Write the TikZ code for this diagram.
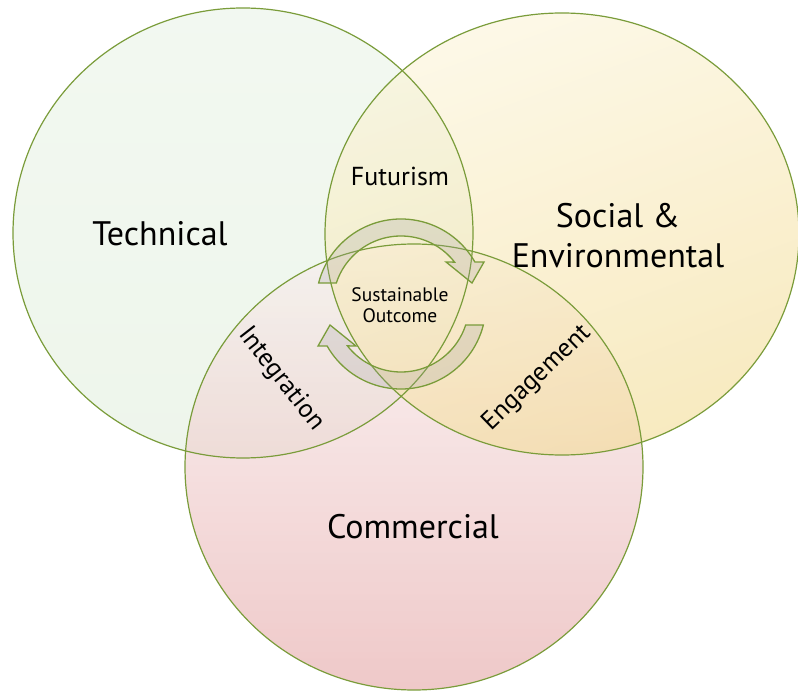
\documentclass[tikz,border=0pt]{standalone}
\usepackage{fontspec}
\setmainfont{PT Sans}
\usetikzlibrary{shapes.geometric}
\definecolor{setline}{RGB}{122,156,58}
\definecolor{techtop}{HTML}{EAF4E7}
\definecolor{techbot}{HTML}{E2EFDE}
\definecolor{soctop}{HTML}{FBF4D8}
\definecolor{socbot}{HTML}{F3DC96}
\definecolor{comtop}{HTML}{F9F0F0}
\definecolor{commid}{HTML}{F2DCDC}
\definecolor{combot}{HTML}{E4A4A4}
\tikzset{
   venn/.style={ellipse, inner sep=0pt, fill opacity=0.6},
   vennline/.style={draw=setline, line width=1.2pt},
   cycarrow/.style={draw=setline, line width=1.3pt, fill=gray!75, fill opacity=0.24},
   biglabel/.style={font=\fontsize{34}{40}\selectfont, text=black},
   midlabel/.style={font=\fontsize{26}{30}\selectfont, text=black},
   smalllabel/.style={font=\fontsize{19.5}{21}\selectfont, text=black}
}

\begin{document}
\begin{tikzpicture}[x=1pt,y=-1pt]
\useasboundingbox (0,0) rectangle (798,692);
\node[venn, minimum width=460pt, minimum height=450pt, top color=techtop, bottom color=techbot] (tech) at (243,233) {};
\node[venn, minimum width=458pt, minimum height=446pt, top color=comtop, middle color=commid, bottom color=combot] (com) at (414,467) {};
\node[venn, minimum width=474pt, minimum height=442pt, top color=soctop, bottom color=socbot, shading angle=20] (soc) at (562,234) {};
\foreach \n/\rx/\ry in {tech/230/225, soc/237/221, com/229/223}
   \draw[vennline] (\n) ellipse [x radius=\rx, y radius=\ry];
\begin{scope}[shift={(401,304)}, yscale=-1]
\draw[cycarrow] (165.7:85) arc[start angle=165.7, end angle=29.6, radius=85] -- (83,42) -- (71,21) -- (45,42) -- (38:68) arc[start angle=38, end angle=162, radius=68] -- cycle;
\begin{scope}[rotate=180]
\draw[cycarrow] (165.7:85) arc[start angle=165.7, end angle=29.6, radius=85] -- (83,42) -- (71,21) -- (45,42) -- (38:68) arc[start angle=38, end angle=162, radius=68] -- cycle;
\end{scope}
\end{scope}
\node[biglabel] (techlbl) at (160,234) {Technical};
\node[biglabel, align=center] (soclbl) at (618,236) {Social \&\\Environmental};
\node[biglabel] (comlbl) at (413,527) {Commercial};
\node[midlabel] (futlbl) at (400,176) {Futurism};
\node[midlabel, rotate=-52] (intlbl) at (281,379) {Integration};
\node[midlabel, rotate=44] (englbl) at (537,378) {Engagement};
\node[smalllabel, align=center] (suslbl) at (400,305) {Sustainable\\Outcome};
\end{tikzpicture}
\end{document}
